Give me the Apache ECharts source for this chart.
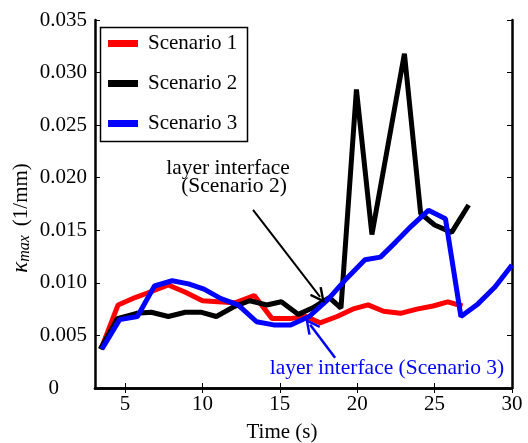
<!DOCTYPE html>
<html>
<head>
<meta charset="utf-8">
<script src="https://cdn.jsdelivr.net/npm/echarts@6/dist/echarts.min.js"></script>
<style>
  html, body { margin: 0; padding: 0; background: #fff; }
  #chart { width: 528px; height: 443px; }
</style>
</head>
<body>
<div id="chart"></div>
<script>
// time stamps (s) and curvature values
const timeS1 = [3.45, 4.55, 5.65, 6.75, 7.8, 8.9, 10.0, 11.0, 12.1, 13.35, 14.5, 15.65, 16.7, 17.6, 18.7, 19.7, 20.7, 21.7, 22.8, 23.85, 24.9, 25.85, 26.8]
const kappaS1 = [0.0037, 0.0079, 0.0086, 0.0092, 0.0098, 0.0091, 0.0083, 0.0082, 0.0081, 0.0088, 0.0066, 0.0066, 0.0068, 0.0062, 0.0068, 0.0075, 0.0079, 0.0073, 0.0071, 0.0075, 0.0078, 0.0082, 0.0078]

const timeS2 = [3.4, 4.5, 5.75, 6.7, 7.8, 8.9, 9.95, 10.9, 12.0, 13.05, 14.15, 15.1, 16.2, 17.1, 18.2, 18.95, 19.95, 20.95, 22.0, 23.05, 24.1, 25.0, 26.1, 27.2]
const kappaS2 = [0.0037, 0.0066, 0.0071, 0.0072, 0.0068, 0.0072, 0.0072, 0.0068, 0.0077, 0.0083, 0.0079, 0.0082, 0.0070, 0.0076, 0.0086, 0.0076, 0.0284, 0.0146, 0.0232, 0.0318, 0.0166, 0.0155, 0.0148, 0.0174]

const timeS3 = [3.5, 4.65, 5.8, 6.9, 8.05, 9.1, 10.1, 11.2, 12.3, 13.5, 14.6, 15.7, 16.9, 18.1, 19.3, 20.5, 21.5, 22.5, 23.5, 24.6, 25.7, 26.7, 27.8, 28.9, 30.0]
const kappaS3 = [0.0037, 0.0065, 0.0068, 0.0097, 0.0102, 0.0099, 0.0094, 0.0085, 0.0079, 0.0063, 0.0060, 0.0060, 0.0068, 0.0084, 0.0104, 0.0122, 0.01245, 0.0139, 0.0154, 0.0169, 0.0161, 0.0068, 0.0080, 0.0096, 0.0117]

const seriesNames = ['Scenario 1', 'Scenario 2', 'Scenario 3']
const seriesColors = ['#ff0000', '#000000', '#0000ff']
const xTicks = [5, 10, 15, 20, 25, 30]

// annotation arrows [tail, tip] in data units
const arrowS2 = [[13.27, 0.01694], [17.6, 0.00867]]
const arrowS3 = [[18.57, 0.00288], [16.96, 0.00601]]

const font = 'Liberation Serif, Times New Roman, serif'
const fs = 21
// open arrow head, drawn as a filled chevron
const chevron = 'path://M0,0 L-7,14 L-5,15.2 L0,5 L5,15.2 L7,14 Z'

const zip = (xs, ys) => xs.map((x, i) => [x, ys[i]])

const chart = echarts.init(document.getElementById('chart'))

const frameAxis = {
  min: 3.06,
  max: 30,
  axisLine: { lineStyle: { color: '#000', width: 2.5 } },
  splitLine: { show: false }
}

const arrowLine = (pts, color, width) => ({
  silent: true,
  symbol: ['none', chevron],
  symbolSize: [15, 16],
  label: { show: false },
  lineStyle: { color: color, width: width, type: 'solid' },
  data: [[{ coord: pts[0] }, { coord: pts[1] }]]
})

chart.setOption({
  animation: false,
  backgroundColor: '#fff',
  grid: { left: 95, right: 16, top: 20, bottom: 55 },
  legend: {
    orient: 'vertical',
    left: 108,
    top: 33,
    padding: 0,
    icon: 'rect',
    itemWidth: 30,
    itemHeight: 7,
    itemGap: 19,
    data: seriesNames,
    textStyle: { fontFamily: font, fontSize: fs, color: '#000', padding: [0, 0, 0, 5] }
  },
  xAxis: [{
    ...frameAxis,
    type: 'value',
    position: 'bottom',
    axisTick: { inside: true, length: 5, customValues: xTicks, lineStyle: { color: '#000' } },
    axisLabel: { customValues: xTicks, margin: 6, fontFamily: font, fontSize: fs, color: '#000' }
  }, {
    ...frameAxis,
    type: 'value',
    position: 'top',
    axisTick: { inside: true, length: 5, customValues: xTicks, lineStyle: { color: '#000' } },
    axisLabel: { show: false }
  }],
  yAxis: [{
    type: 'value',
    min: 0,
    max: 0.035,
    interval: 0.005,
    position: 'left',
    axisLine: { show: true, lineStyle: { color: '#000', width: 2.5 } },
    axisTick: { show: true, inside: true, length: 5, lineStyle: { color: '#000' } },
    splitLine: { show: false },
    axisLabel: {
      margin: 8,
      fontFamily: font,
      fontSize: fs,
      color: '#000',
      formatter: v => v === 0 ? '{z|0}' : v.toFixed(3),
      rich: { z: { fontFamily: font, fontSize: fs, color: '#000', padding: [0, 28, 0, 0] } }
    }
  }, {
    type: 'value',
    min: 0,
    max: 0.035,
    interval: 0.005,
    position: 'right',
    axisLine: { show: true, lineStyle: { color: '#000', width: 2.5 } },
    axisTick: { show: true, inside: true, length: 5, lineStyle: { color: '#000' } },
    splitLine: { show: false },
    axisLabel: { show: false }
  }],
  graphic: [{
    type: 'rect',
    shape: { x: 100.5, y: 27.5, width: 147, height: 114 },
    style: { fill: 'none', stroke: '#000', lineWidth: 1.5 },
    z: 90
  }, {
    type: 'text',
    x: 21,
    y: 218,
    rotation: Math.PI / 2,
    style: {
      text: '{k|κ}{s|max}{n|(1/mm)}',
      align: 'center',
      verticalAlign: 'middle',
      rich: {
        k: { fontFamily: font, fontSize: 23, fontStyle: 'italic', fill: '#000' },
        s: { fontFamily: font, fontSize: 16, fontStyle: 'italic', fill: '#000', padding: [8, 0, 0, 0] },
        n: { fontFamily: font, fontSize: fs, fill: '#000', padding: [0, 0, 0, 9] }
      }
    }
  }, {
    type: 'text',
    x: 282,
    y: 432,
    style: { text: 'Time (s)', font: fs + 'px ' + font, fill: '#000', align: 'center', verticalAlign: 'middle' }
  }, {
    type: 'text',
    x: 228,
    y: 168,
    style: { text: 'layer interface', font: '21.5px ' + font, fill: '#000', align: 'center', verticalAlign: 'middle' }
  }, {
    type: 'text',
    x: 234,
    y: 186,
    style: { text: '(Scenario 2)', font: '21.5px ' + font, fill: '#000', align: 'center', verticalAlign: 'middle' }
  }, {
    type: 'text',
    x: 387,
    y: 368,
    style: { text: 'layer interface (Scenario 3)', font: '21.5px ' + font, fill: '#0000ff', align: 'center', verticalAlign: 'middle' }
  }],
  series: [{
    name: seriesNames[0],
    type: 'line',
    data: zip(timeS1, kappaS1),
    showSymbol: false,
    color: seriesColors[0],
    lineStyle: { width: 5, color: seriesColors[0] }
  }, {
    name: seriesNames[1],
    type: 'line',
    data: zip(timeS2, kappaS2),
    showSymbol: false,
    color: seriesColors[1],
    lineStyle: { width: 5, color: seriesColors[1] },
    markLine: arrowLine(arrowS2, '#000', 2)
  }, {
    name: seriesNames[2],
    type: 'line',
    data: zip(timeS3, kappaS3),
    showSymbol: false,
    color: seriesColors[2],
    lineStyle: { width: 5, color: seriesColors[2] },
    markLine: arrowLine(arrowS3, '#0000ff', 2.5)
  }]
})
</script>
</body>
</html>
